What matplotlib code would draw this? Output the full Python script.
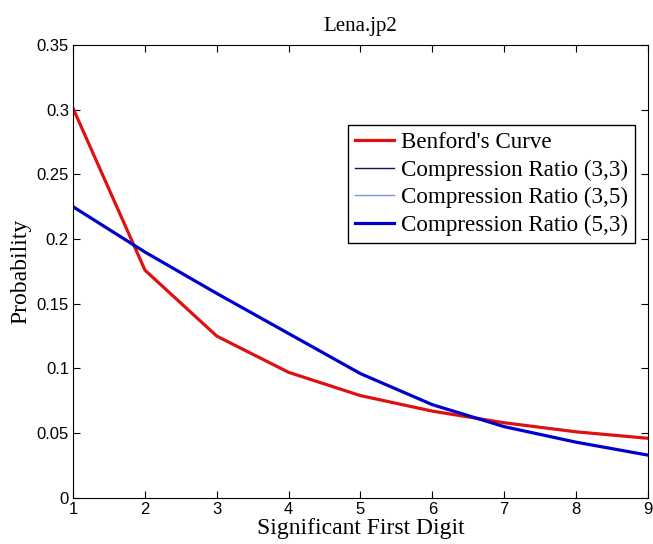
import matplotlib
matplotlib.use('Agg')
import matplotlib.pyplot as plt
import numpy as np

digits = [1, 2, 3, 4, 5, 6, 7, 8, 9]
benford = [0.301, 0.176, 0.125, 0.097, 0.079, 0.067, 0.058, 0.051, 0.046]
ratio_33 = [0.225, 0.190, 0.158, 0.127, 0.096, 0.072, 0.055, 0.043, 0.033]
ratio_35 = [0.225, 0.190, 0.158, 0.127, 0.096, 0.072, 0.055, 0.043, 0.033]
ratio_53 = [0.225, 0.190, 0.158, 0.127, 0.096, 0.072, 0.055, 0.043, 0.033]

serif = 'Liberation Serif'

fig = plt.figure(figsize=(6.53, 5.44), dpi=100)
ax = fig.add_axes([0.112, 0.085, 0.88, 0.832])

ax.plot(digits, benford, color='#e01010', lw=2.3, label="Benford's Curve")
ax.plot(digits, ratio_33, color='#101060', lw=1.0, label='Compression Ratio (3,3)')
ax.plot(digits, ratio_35, color='#8090e0', lw=1.0, label='Compression Ratio (3,5)')
ax.plot(digits, ratio_53, color='#0000cc', lw=2.3, label='Compression Ratio (5,3)')

ax.set_xlim(1, 9)
ax.set_ylim(0, 0.35)
ax.set_xticks(digits)
ax.set_yticks(np.arange(0, 0.351, 0.05))
ax.set_yticklabels(['0', '0.05', '0.1', '0.15', '0.2', '0.25', '0.3', '0.35'])
ax.tick_params(direction='in', top=True, right=True, length=5,
               labelsize=12, pad=3)
for lab in ax.get_xticklabels() + ax.get_yticklabels():
    lab.set_fontfamily('Liberation Sans')

ax.set_title('Lena.jp2', fontfamily=serif, fontsize=15, pad=10)
ax.set_xlabel('Significant First Digit', fontfamily=serif, fontsize=17, labelpad=1)
ax.set_ylabel('Probability', fontfamily=serif, fontsize=17, labelpad=4)

leg = ax.legend(loc='upper right', bbox_to_anchor=(0.99, 0.838),
                prop={'family': serif, 'size': 16.6}, fancybox=False,
                framealpha=1, edgecolor='black', handlelength=1.7,
                handletextpad=0.3, borderpad=0.3, labelspacing=0.27,
                borderaxespad=0.3)
leg.get_frame().set_linewidth(1.0)

plt.savefig('out.png', dpi=100)
